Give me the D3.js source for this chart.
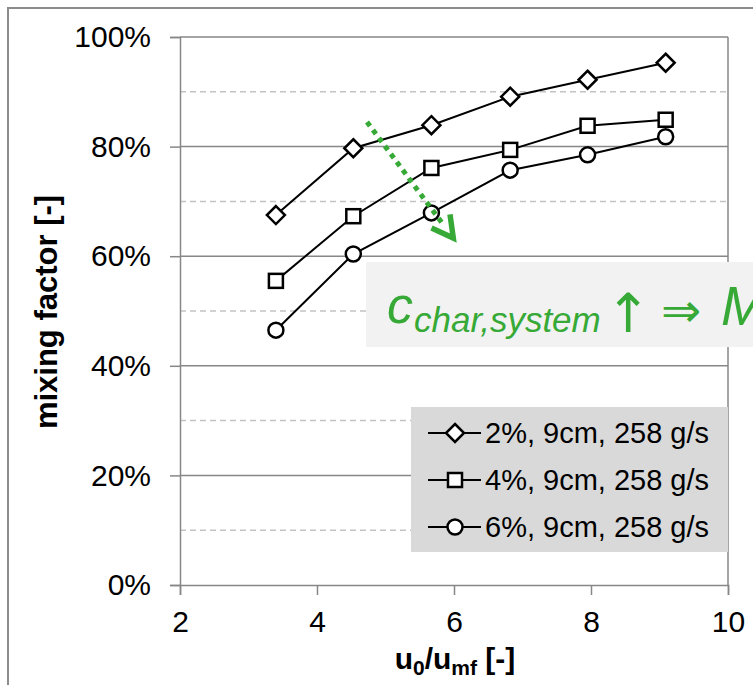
<!DOCTYPE html>
<html><head><meta charset="utf-8">
<script src="https://cdn.jsdelivr.net/npm/d3@7"></script>
<style>body{margin:0;background:#fff;} svg{display:block;font-family:"Liberation Sans",Arial,sans-serif;}</style>
</head><body><svg id="c" width="753" height="685"></svg>
<script>
// ---- data ----
const xValues = [3.40, 4.53, 5.67, 6.82, 7.95, 9.09];
const series2pct = [67.5, 79.7, 83.9, 89.1, 92.2, 95.3];
const series4pct = [55.5, 67.3, 76.1, 79.4, 83.8, 84.9];
const series6pct = [46.5, 60.4, 67.9, 75.7, 78.5, 81.8];
const seriesNames = ["2%, 9cm, 258 g/s", "4%, 9cm, 258 g/s", "6%, 9cm, 258 g/s"];
const markerTypes = ["diamond", "square", "circle"];
const xTicks = [2, 4, 6, 8, 10];
const yTicks = [0, 20, 40, 60, 80, 100];
const yMinorTicks = [10, 30, 50, 70, 90];
const arrowFrom = [4.73, 84.5];
const arrowTo = [5.99, 63.3];

const svg = d3.select("#c");
const x = d3.scaleLinear().domain([2, 10]).range([180, 728]);
const y = d3.scaleLinear().domain([0, 100]).range([585, 37]);
const gray = "#878787";
const green = "#36a936";

// outer frame
svg.append("rect").attr("x", 8).attr("y", 8).attr("width", 820).attr("height", 720)
  .attr("fill", "none").attr("stroke", "#8c8c8c").attr("stroke-width", 2);

// minor dashed gridlines
svg.append("g").selectAll("line").data(yMinorTicks).join("line")
  .attr("x1", x(2)).attr("x2", x(10)).attr("y1", d => y(d)).attr("y2", d => y(d))
  .attr("stroke", "#c3c3c3").attr("stroke-width", 1.5).attr("stroke-dasharray", "6,4");
// major gridlines
svg.append("g").selectAll("line").data(yTicks.filter(d => d > 0)).join("line")
  .attr("x1", x(2)).attr("x2", x(10)).attr("y1", d => y(d)).attr("y2", d => y(d))
  .attr("stroke", gray).attr("stroke-width", 1.5);
// right border
svg.append("line").attr("x1", x(10)).attr("x2", x(10)).attr("y1", y(100)).attr("y2", y(0))
  .attr("stroke", gray).attr("stroke-width", 1.5);

// axes
const yAxis = svg.append("g").attr("transform", `translate(${x(2)},0)`)
  .call(d3.axisLeft(y).tickValues(yTicks).tickSize(10).tickPadding(19).tickFormat(d => d + "%"));
const xAxis = svg.append("g").attr("transform", `translate(0,${y(0)})`)
  .call(d3.axisBottom(x).tickValues(xTicks).tickSize(10).tickPadding(10).tickFormat(d3.format("d")));
[yAxis, xAxis].forEach(a => {
  a.select(".domain").attr("stroke", gray).attr("stroke-width", 1.5);
  a.selectAll(".tick line").attr("stroke", gray).attr("stroke-width", 1.5);
  a.selectAll(".tick text").attr("fill", "#000").attr("font-size", 30)
    .attr("font-family", "'Liberation Sans',Arial,sans-serif");
});
xAxis.selectAll(".tick text").attr("dy", "0.9em");

// axis titles
svg.append("text").attr("transform", `translate(57,312) rotate(-90)`)
  .attr("text-anchor", "middle").attr("font-weight", "bold").attr("font-size", 31).attr("fill", "#000")
  .text("mixing factor [-]");
const xt = svg.append("text").attr("x", 455).attr("y", 669).attr("text-anchor", "middle")
  .attr("font-weight", "bold").attr("font-size", 30).attr("fill", "#000");
xt.append("tspan").text("u");
xt.append("tspan").attr("font-size", 21).attr("dy", 6).text("0");
xt.append("tspan").attr("dy", -6).text("/u");
xt.append("tspan").attr("font-size", 21).attr("dy", 6).text("mf");
xt.append("tspan").attr("dy", -6).text(" [-]");

// markers
function drawMarker(g, type, cx, cy) {
  if (type === "diamond") {
    const s = 9;
    g.append("path").attr("d", `M${cx},${cy - s}L${cx + s},${cy}L${cx},${cy + s}L${cx - s},${cy}Z`)
      .attr("fill", "#fff").attr("stroke", "#000").attr("stroke-width", 2.5);
  } else if (type === "square") {
    const s = 7;
    g.append("rect").attr("x", cx - s).attr("y", cy - s).attr("width", 2 * s).attr("height", 2 * s)
      .attr("fill", "#fff").attr("stroke", "#000").attr("stroke-width", 2.5);
  } else {
    g.append("circle").attr("cx", cx).attr("cy", cy).attr("r", 7.5)
      .attr("fill", "#fff").attr("stroke", "#000").attr("stroke-width", 2.5);
  }
}

const allSeries = [series2pct, series4pct, series6pct];
const line = d3.line().x(d => x(d[0])).y(d => y(d[1]));
const sg = svg.append("g");
allSeries.forEach((vals, i) => {
  const pts = xValues.map((xv, j) => [xv, vals[j]]);
  sg.append("path").attr("d", line(pts)).attr("fill", "none").attr("stroke", "#000").attr("stroke-width", 2);
  pts.forEach(p => drawMarker(sg, markerTypes[i], x(p[0]), y(p[1])));
});

// legend
const lg = svg.append("g");
lg.append("rect").attr("x", 411).attr("y", 407).attr("width", 317).attr("height", 145).attr("fill", "#d9d9d9");
seriesNames.forEach((name, i) => {
  const ry = 433 + i * 47;
  lg.append("line").attr("x1", 428).attr("x2", 481).attr("y1", ry).attr("y2", ry)
    .attr("stroke", "#000").attr("stroke-width", 2);
  drawMarker(lg, markerTypes[i], 455, ry);
  lg.append("text").attr("x", 485).attr("y", ry).attr("dy", "0.35em").attr("font-size", 29)
    .attr("fill", "#000").text(name);
});

// annotation box
const an = svg.append("g");
an.append("rect").attr("x", 366).attr("y", 262).attr("width", 420).attr("height", 85).attr("fill", "#f2f2f2");
const at = an.append("text").attr("x", 387).attr("y", 323).attr("fill", green).attr("font-style", "italic");
at.append("tspan").attr("font-size", 52).text("c");
at.append("tspan").attr("font-size", 35).attr("dy", 9).attr("dx", 1).text("char,system");
an.append("text").attr("x", 628).attr("y", 332).attr("text-anchor", "middle").attr("fill", green)
  .attr("font-size", 54).attr("font-family", "'DejaVu Sans',sans-serif").text("↑");
an.append("text").attr("x", 681).attr("y", 327).attr("text-anchor", "middle").attr("fill", green)
  .attr("font-size", 48).attr("font-family", "'DejaVu Sans',sans-serif").text("⇒");
an.append("text").attr("x", 721).attr("y", 325).attr("fill", green).attr("font-style", "italic")
  .attr("font-size", 55).text("M");

// dotted arrow
const ax0 = x(arrowFrom[0]), ay0 = y(arrowFrom[1]), ax1 = x(arrowTo[0]), ay1 = y(arrowTo[1]);
const ang = Math.atan2(ay1 - ay0, ax1 - ax0);
const shaftEnd = [ax1 - 15 * Math.cos(ang), ay1 - 15 * Math.sin(ang)];
svg.append("line").attr("x1", ax0).attr("y1", ay0).attr("x2", shaftEnd[0]).attr("y2", shaftEnd[1])
  .attr("stroke", green).attr("stroke-width", 5).attr("stroke-dasharray", "5,5");
const wl = 24, wa = 0.5;
const w1 = [ax1 - wl * Math.cos(ang - wa), ay1 - wl * Math.sin(ang - wa)];
const w2 = [ax1 - wl * Math.cos(ang + wa), ay1 - wl * Math.sin(ang + wa)];
svg.append("path").attr("d", `M${w1[0]},${w1[1]}L${ax1},${ay1}L${w2[0]},${w2[1]}`)
  .attr("fill", "none").attr("stroke", green).attr("stroke-width", 5.5).attr("stroke-linejoin", "miter");
</script></body></html>
